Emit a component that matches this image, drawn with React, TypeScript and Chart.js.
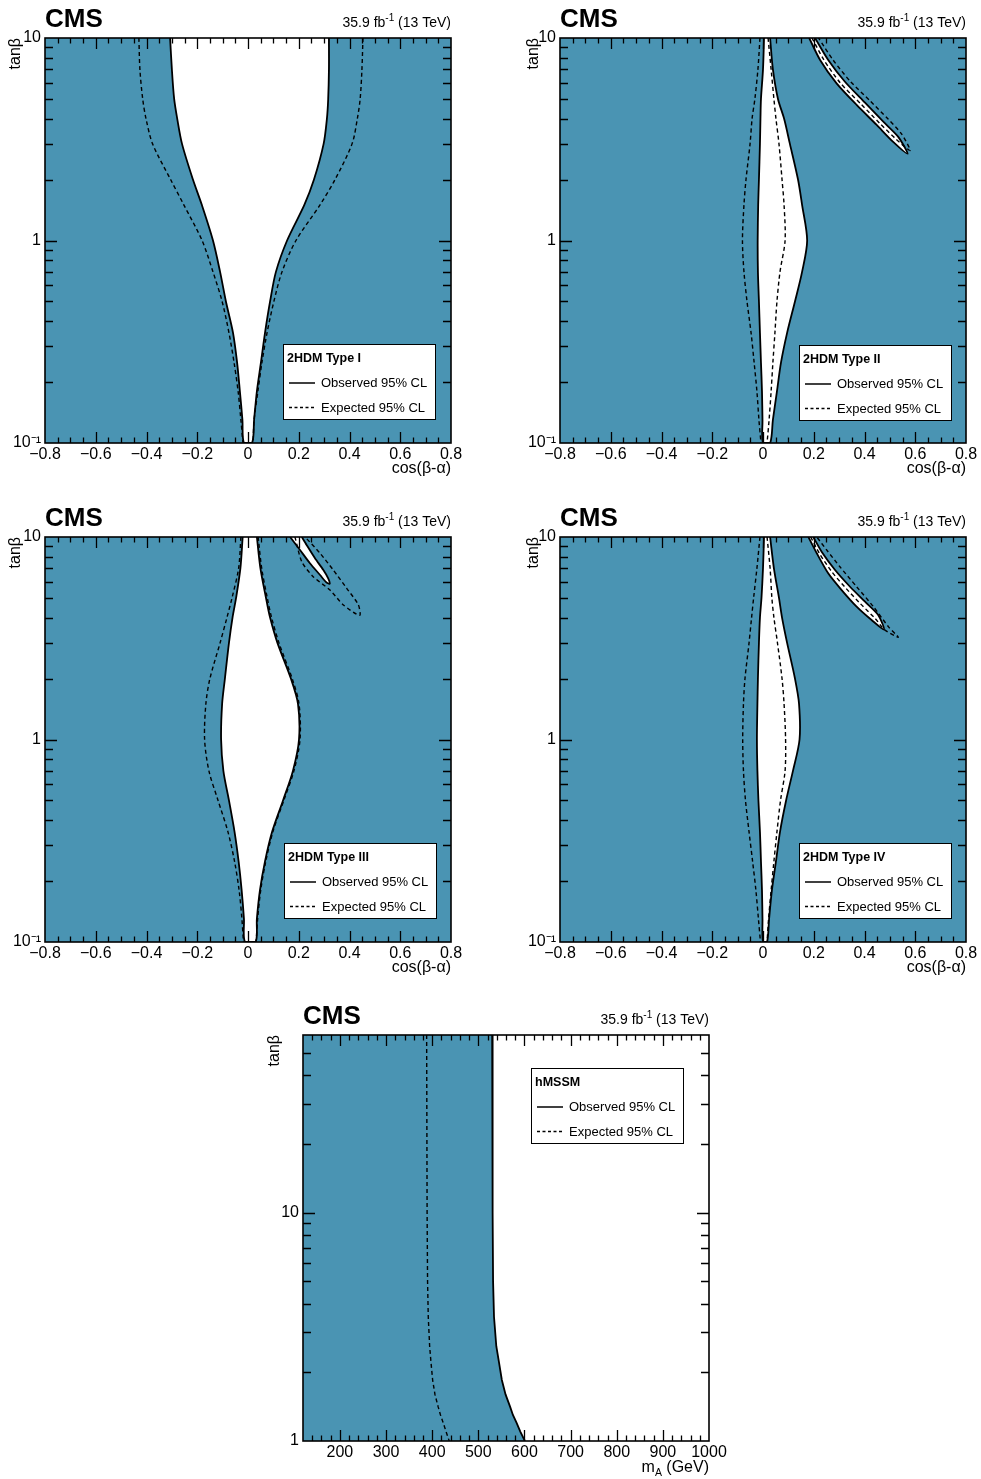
import React, { useEffect, useRef } from "react";
import { Chart, registerables } from "chart.js";

Chart.register(...registerables);

const FONT = '"Liberation Sans", Arial, Helvetica, sans-serif';
const TEAL = "rgb(74,148,179)";

// ---------------- data ----------------
// tan(beta) sampling used for the 2HDM contours
const TANB = [10, 7, 5, 4, 3, 2, 1.5, 1, 0.7, 0.5, 0.35, 0.25, 0.18, 0.13, 0.1];

// 2HDM Type I : cos(beta-alpha) of contour edges
const T1_OBS_LO = [-0.307, -0.3, -0.291, -0.279, -0.26, -0.217, -0.182, -0.138, -0.11, -0.087, -0.059, -0.043, -0.032, -0.022, -0.016];
const T1_OBS_HI = [0.319, 0.319, 0.316, 0.311, 0.298, 0.26, 0.222, 0.154, 0.11, 0.087, 0.067, 0.051, 0.035, 0.024, 0.016];
const T1_EXP_LO = [-0.43, -0.426, -0.415, -0.402, -0.376, -0.305, -0.253, -0.181, -0.138, -0.102, -0.075, -0.055, -0.039, -0.028, -0.02];
const T1_EXP_HI = [0.453, 0.449, 0.442, 0.431, 0.41, 0.343, 0.284, 0.189, 0.134, 0.102, 0.075, 0.055, 0.039, 0.024, 0.02];

// 2HDM Type II
const T2_OBS_LO = [0.004, 0.0, -0.008, -0.01, -0.012, -0.016, -0.019, -0.021, -0.02, -0.016, -0.012, -0.008, -0.004, -0.002, 0.0];
const T2_OBS_HI = [0.028, 0.039, 0.059, 0.083, 0.106, 0.138, 0.154, 0.174, 0.154, 0.126, 0.095, 0.071, 0.055, 0.039, 0.028];
const T2_EXP_LO = [-0.012, -0.02, -0.032, -0.043, -0.051, -0.067, -0.075, -0.081, -0.075, -0.063, -0.047, -0.035, -0.024, -0.016, -0.008];
const T2_EXP_HI = [0.02, 0.032, 0.043, 0.051, 0.063, 0.075, 0.083, 0.087, 0.067, 0.055, 0.047, 0.039, 0.032, 0.024, 0.016];
const T2_ISL_OBS_X = [0.182, 0.225, 0.29, 0.369, 0.448, 0.513, 0.57, 0.533, 0.474, 0.402, 0.323, 0.257, 0.205];
const T2_ISL_OBS_Y = [10, 7.79, 5.97, 4.67, 3.72, 3.07, 2.68, 3.25, 3.86, 4.79, 6.08, 7.79, 10];
const T2_ISL_EXP_X = [0.193, 0.24, 0.305, 0.386, 0.461, 0.524, 0.58, 0.546, 0.493, 0.422, 0.343, 0.276, 0.219];
const T2_ISL_EXP_Y = [10, 7.79, 5.99, 4.72, 3.78, 3.17, 2.78, 3.36, 3.98, 4.89, 6.13, 7.79, 10];

// 2HDM Type III
const T3_OBS_LO = [-0.021, -0.03, -0.047, -0.061, -0.075, -0.091, -0.102, -0.106, -0.097, -0.075, -0.053, -0.037, -0.025, -0.016, -0.012];
const T3_OBS_HI = [0.035, 0.049, 0.071, 0.087, 0.116, 0.169, 0.197, 0.201, 0.177, 0.138, 0.095, 0.067, 0.047, 0.035, 0.03];
const T3_EXP_LO = [-0.028, -0.037, -0.063, -0.083, -0.11, -0.15, -0.166, -0.171, -0.154, -0.118, -0.079, -0.053, -0.035, -0.024, -0.018];
const T3_EXP_HI = [0.04, 0.054, 0.076, 0.093, 0.122, 0.174, 0.201, 0.205, 0.181, 0.141, 0.098, 0.07, 0.05, 0.038, 0.032];
const T3_ISL_OBS_X = [0.166, 0.205, 0.244, 0.284, 0.31, 0.322, 0.316, 0.297, 0.264, 0.231, 0.212];
const T3_ISL_OBS_Y = [10, 8.63, 7.42, 6.49, 5.95, 5.88, 6.25, 6.87, 7.85, 9.13, 10];
const T3_ISL_EXP_X = [0.185, 0.212, 0.257, 0.323, 0.376, 0.44, 0.435, 0.389, 0.336, 0.284, 0.225];
const T3_ISL_EXP_Y = [10, 7.55, 6.37, 5.47, 4.62, 4.1, 4.62, 5.58, 6.87, 8.31, 10];

// 2HDM Type IV
const T4_OBS_LO = [0.004, 0.0, -0.006, -0.012, -0.016, -0.02, -0.022, -0.024, -0.022, -0.018, -0.012, -0.008, -0.004, -0.002, 0.0];
const T4_OBS_HI = [0.028, 0.043, 0.063, 0.075, 0.095, 0.126, 0.142, 0.144, 0.118, 0.091, 0.067, 0.051, 0.035, 0.024, 0.016];
const T4_EXP_LO = [-0.012, -0.024, -0.037, -0.045, -0.055, -0.071, -0.077, -0.08, -0.077, -0.069, -0.055, -0.041, -0.028, -0.018, -0.01];
const T4_EXP_HI = [0.016, 0.028, 0.035, 0.043, 0.057, 0.075, 0.083, 0.089, 0.087, 0.069, 0.055, 0.043, 0.032, 0.022, 0.016];
const T4_ISL_OBS_X = [0.179, 0.212, 0.257, 0.31, 0.369, 0.428, 0.477, 0.454, 0.402, 0.343, 0.284, 0.231, 0.198];
const T4_ISL_OBS_Y = [10, 8.31, 6.62, 5.47, 4.53, 3.89, 3.49, 4.12, 4.79, 5.68, 6.87, 8.46, 10];
const T4_ISL_EXP_X = [0.188, 0.222, 0.271, 0.327, 0.382, 0.441, 0.481, 0.533, 0.494, 0.435, 0.369, 0.303, 0.251, 0.212];
const T4_ISL_EXP_Y = [10, 8.31, 6.74, 5.58, 4.71, 3.97, 3.47, 3.2, 3.61, 4.53, 5.68, 7.13, 8.63, 10];

// hMSSM : m_A (GeV) of the limit vs tan(beta)
const MSSM_TANB = [60, 10, 5, 3.5, 2.6, 2.2, 1.85, 1.6, 1.41, 1.3, 1.2, 1.1, 1];
const MSSM_OBS = [530, 531, 532, 534, 539, 545, 551, 559, 569, 575, 583, 591, 601];
const MSSM_EXP = [388, 389, 390, 391.5, 394.5, 397.5, 401, 406, 413, 418, 424, 430, 437];

// tick labels
const Y_MAJOR_2HDM = [0.1, 1, 10];
const Y_LABELS_2HDM = ["10\u207B\u00B9", "1", "10"];
const Y_MAJOR_MSSM = [1, 10];
const Y_LABELS_MSSM = ["1", "10"];

const LEGEND_ENTRIES = ["Observed 95% CL", "Expected 95% CL"];
const CMS_LABEL = "CMS";

// ---------------- helpers ----------------
const pts = (xs: number[], ys: number[]) => xs.map((x, i) => ({ x, y: ys[i] }));
const rev = <T,>(a: T[]) => [...a].reverse();

const region = (data: any[], tension = 0.3) => ({
  data,
  showLine: true,
  fill: "shape",
  backgroundColor: "#ffffff",
  borderColor: "#000000",
  borderWidth: 1.8,
  pointRadius: 0,
  tension,
});
const expLine = (data: any[], tension = 0.3) => ({
  data,
  showLine: true,
  fill: false,
  borderColor: "#000000",
  borderWidth: 1.4,
  borderDash: [4, 3],
  pointRadius: 0,
  tension,
});

const fmtCos = (v: number) => {
  const r = Math.round(v * 100);
  if (r % 20 !== 0) return "";
  if (r === 0) return "0";
  return (r < 0 ? "\u2212" : "") + (Math.abs(r) / 100).toFixed(1);
};
const majorCos = (v: number) => Math.round(v * 100) % 20 === 0;
const fmtMass = (v: number) => (Math.round(v) % 100 === 0 && v >= 200 ? String(Math.round(v)) : "");
const majorMass = (v: number) => Math.round(v) % 100 === 0;

type Spec = {
  key: string;
  canvas: { left: number; top: number; width: number; height: number };
  area: { left: number; top: number; right: number; bottom: number };
  yTitleX: number;
  xTitleY: number;
  xTitle: string | null;
  x: { min: number; max: number; step: number; label: (v: number) => string; major: (v: number) => boolean };
  y: { min: number; max: number; majors: number[]; labels: string[] };
  bg: string;
  legendTitle: string;
  legendPos: [number, number];
  datasets: any[];
  massTitle?: boolean;
};

function makeDecor(s: Spec) {
  const c = s.canvas;
  return {
    id: "decor_" + s.key,
    beforeDatasetsDraw(chart: any) {
      const { ctx, chartArea: a } = chart;
      ctx.save();
      ctx.fillStyle = s.bg;
      ctx.fillRect(a.left, a.top, a.right - a.left, a.bottom - a.top);
      ctx.restore();
    },
    afterDatasetsDraw(chart: any) {
      const { ctx, chartArea: a } = chart;
      const xs = chart.scales.x;
      const ys = chart.scales.y;
      ctx.save();
      ctx.strokeStyle = "#000";
      ctx.lineWidth = 1.3;
      ctx.beginPath();
      for (const t of xs.ticks) {
        const v = t.value;
        if (v <= xs.min + 1e-9 || v >= xs.max - 1e-9) continue;
        const p = Math.round(xs.getPixelForValue(v)) + 0.5;
        const len = s.x.major(v) ? 11 : 5.5;
        ctx.moveTo(p, a.bottom);
        ctx.lineTo(p, a.bottom - len);
        ctx.moveTo(p, a.top);
        ctx.lineTo(p, a.top + len);
      }
      for (const t of ys.ticks) {
        const v = t.value;
        if (v <= ys.min * 1.0001 || v >= ys.max * 0.9999) continue;
        const e = Math.floor(Math.log10(v) + 1e-9);
        const sig = v / Math.pow(10, e);
        if (Math.abs(sig - Math.round(sig)) > 1e-6) continue;
        const p = Math.round(ys.getPixelForValue(v)) + 0.5;
        const len = Math.abs(sig - 1) < 1e-6 ? 12 : 8;
        ctx.moveTo(a.left, p);
        ctx.lineTo(a.left + len, p);
        ctx.moveTo(a.right, p);
        ctx.lineTo(a.right - len, p);
      }
      ctx.stroke();
      ctx.lineWidth = 1.6;
      ctx.strokeRect(a.left, a.top, a.right - a.left, a.bottom - a.top);
      ctx.restore();
    },
    afterDraw(chart: any) {
      const { ctx, chartArea: a } = chart;
      ctx.save();
      ctx.fillStyle = "#000";
      // CMS label
      ctx.textBaseline = "alphabetic";
      ctx.textAlign = "left";
      ctx.font = `bold 26px ${FONT}`;
      ctx.fillText(CMS_LABEL, a.left, a.top - 11);
      // luminosity label
      ctx.font = `14px ${FONT}`;
      const t3 = " (13 TeV)";
      const t1 = "35.9 fb";
      const w3 = ctx.measureText(t3).width;
      const w1 = ctx.measureText(t1).width;
      ctx.font = `10px ${FONT}`;
      const t2 = "-1";
      const w2 = ctx.measureText(t2).width;
      const bl = a.top - 11.5;
      ctx.fillText(t2, a.right - w3 - w2, bl - 6);
      ctx.font = `14px ${FONT}`;
      ctx.fillText(t3, a.right - w3, bl);
      ctx.fillText(t1, a.right - w3 - w2 - w1, bl);
      // m_A title
      if (s.massTitle) {
        ctx.font = `16px ${FONT}`;
        const g = " (GeV)";
        const wg = ctx.measureText(g).width;
        const wm = ctx.measureText("m").width;
        ctx.font = `10.5px ${FONT}`;
        const wa = ctx.measureText("A").width;
        const b = 1471.5 - c.top;
        ctx.fillText("A", a.right - wg - wa, b + 4.5);
        ctx.font = `16px ${FONT}`;
        ctx.fillText(g, a.right - wg, b);
        ctx.fillText("m", a.right - wg - wa - wm, b);
      }
      // legend box
      const lx = s.legendPos[0] - c.left;
      const ly = s.legendPos[1] - c.top;
      const W = 152, H = 75;
      ctx.fillStyle = "#fff";
      ctx.fillRect(lx, ly, W, H);
      ctx.strokeStyle = "#000";
      ctx.lineWidth = 1;
      ctx.strokeRect(lx + 0.5, ly + 0.5, W, H);
      ctx.fillStyle = "#000";
      ctx.textBaseline = "middle";
      ctx.font = `bold 12.5px ${FONT}`;
      ctx.fillText(s.legendTitle, lx + 4, ly + 14.5);
      ctx.lineWidth = 1.5;
      ctx.beginPath();
      ctx.moveTo(lx + 6, ly + 39);
      ctx.lineTo(lx + 32, ly + 39);
      ctx.stroke();
      ctx.setLineDash([3, 2.5]);
      ctx.beginPath();
      ctx.moveTo(lx + 6, ly + 63.5);
      ctx.lineTo(lx + 32, ly + 63.5);
      ctx.stroke();
      ctx.setLineDash([]);
      ctx.font = `13px ${FONT}`;
      ctx.fillText(LEGEND_ENTRIES[0], lx + 38, ly + 39.5);
      ctx.fillText(LEGEND_ENTRIES[1], lx + 38, ly + 64);
      ctx.restore();
    },
  };
}

function buildConfig(s: Spec): any {
  const c = s.canvas, a = s.area;
  const half = (16 * 1.2) / 2;
  const padL = s.yTitleX - half - c.left;
  const yW = a.left - c.left - padL;
  const padR = c.left + c.width - a.right;
  const padT = a.top - c.top;
  const xH = s.xTitleY - a.bottom + half;
  const padB = c.top + c.height - a.bottom - xH;
  const tickFont = { family: FONT, size: 16 };
  const titleFont = { family: FONT, size: 16, lineHeight: 1.2 };
  return {
    type: "scatter",
    data: { datasets: s.datasets },
    options: {
      responsive: false,
      animation: false,
      devicePixelRatio: 1,
      events: [],
      layout: { padding: { left: padL, right: padR, top: padT, bottom: padB } },
      plugins: { legend: { display: false }, tooltip: { enabled: false } },
      scales: {
        x: {
          type: "linear",
          position: "bottom",
          min: s.x.min,
          max: s.x.max,
          grid: { display: false, drawTicks: false },
          border: { display: false },
          ticks: {
            stepSize: s.x.step,
            autoSkip: false,
            maxRotation: 0,
            minRotation: 0,
            maxTicksLimit: 1000,
            padding: 2,
            color: "#000",
            font: tickFont,
            callback: (v: any) => s.x.label(Number(v)),
          },
          title: {
            display: !!s.xTitle,
            text: s.xTitle ?? "",
            align: "end",
            padding: 0,
            color: "#000",
            font: titleFont,
          },
          afterFit: (sc: any) => {
            sc.height = xH;
          },
        },
        y: {
          type: "logarithmic",
          position: "left",
          min: s.y.min,
          max: s.y.max,
          grid: { display: false, drawTicks: false },
          border: { display: false },
          ticks: {
            autoSkip: false,
            padding: 4,
            color: "#000",
            font: tickFont,
            callback: (v: any) => {
              const n = Number(v);
              const i = s.y.majors.findIndex((m) => Math.abs(m - n) < 1e-6 * m);
              return i >= 0 ? s.y.labels[i] : "";
            },
          },
          title: { display: true, text: "tan\u03B2", align: "end", padding: 0, color: "#000", font: titleFont },
          afterFit: (sc: any) => {
            sc.width = yW;
          },
        },
      },
    },
    plugins: [makeDecor(s)],
  };
}

const X2HDM = { min: -0.8, max: 0.8, step: 0.05, label: fmtCos, major: majorCos };
const Y2HDM = { min: 0.1, max: 10, majors: Y_MAJOR_2HDM, labels: Y_LABELS_2HDM };

const centralRegion = (lo: number[], hi: number[]) => [...pts(lo, TANB), ...rev(pts(hi, TANB))];

const SPECS: Spec[] = [
  {
    key: "t1",
    canvas: { left: 0, top: 0, width: 475, height: 490 },
    area: { left: 45, top: 38, right: 451, bottom: 443 },
    yTitleX: 16,
    xTitleY: 469,
    xTitle: "cos(\u03B2-\u03B1)",
    x: X2HDM,
    y: Y2HDM,
    bg: TEAL,
    legendTitle: "2HDM Type I",
    legendPos: [283, 344],
    datasets: [
      expLine(pts(T1_EXP_LO, TANB)),
      expLine(pts(T1_EXP_HI, TANB)),
      region(centralRegion(T1_OBS_LO, T1_OBS_HI)),
    ],
  },
  {
    key: "t2",
    canvas: { left: 490, top: 0, width: 490, height: 490 },
    area: { left: 560, top: 38, right: 966, bottom: 443 },
    yTitleX: 534,
    xTitleY: 469,
    xTitle: "cos(\u03B2-\u03B1)",
    x: X2HDM,
    y: Y2HDM,
    bg: TEAL,
    legendTitle: "2HDM Type II",
    legendPos: [799, 345],
    datasets: [
      expLine(pts(T2_EXP_LO, TANB)),
      expLine(pts(T2_EXP_HI, TANB)),
      expLine(pts(T2_ISL_EXP_X, T2_ISL_EXP_Y), 0.25),
      region(centralRegion(T2_OBS_LO, T2_OBS_HI)),
      region(pts(T2_ISL_OBS_X, T2_ISL_OBS_Y), 0.25),
    ],
  },
  {
    key: "t3",
    canvas: { left: 0, top: 490, width: 475, height: 500 },
    area: { left: 45, top: 537, right: 451, bottom: 942 },
    yTitleX: 16,
    xTitleY: 968,
    xTitle: "cos(\u03B2-\u03B1)",
    x: X2HDM,
    y: Y2HDM,
    bg: TEAL,
    legendTitle: "2HDM Type III",
    legendPos: [284, 843],
    datasets: [
      expLine(pts(T3_EXP_LO, TANB)),
      expLine(pts(T3_EXP_HI, TANB)),
      expLine(pts(T3_ISL_EXP_X, T3_ISL_EXP_Y), 0.25),
      region(centralRegion(T3_OBS_LO, T3_OBS_HI)),
      region(pts(T3_ISL_OBS_X, T3_ISL_OBS_Y), 0.25),
    ],
  },
  {
    key: "t4",
    canvas: { left: 490, top: 490, width: 490, height: 500 },
    area: { left: 560, top: 537, right: 966, bottom: 942 },
    yTitleX: 534,
    xTitleY: 968,
    xTitle: "cos(\u03B2-\u03B1)",
    x: X2HDM,
    y: Y2HDM,
    bg: TEAL,
    legendTitle: "2HDM Type IV",
    legendPos: [799, 843],
    datasets: [
      expLine(pts(T4_EXP_LO, TANB)),
      expLine(pts(T4_EXP_HI, TANB)),
      expLine(pts(T4_ISL_EXP_X, T4_ISL_EXP_Y), 0.25),
      region(centralRegion(T4_OBS_LO, T4_OBS_HI)),
      region(pts(T4_ISL_OBS_X, T4_ISL_OBS_Y), 0.25),
    ],
  },
  {
    key: "mssm",
    canvas: { left: 240, top: 990, width: 500, height: 488 },
    area: { left: 303, top: 1035, right: 709, bottom: 1441 },
    yTitleX: 275,
    xTitleY: 1461,
    xTitle: null,
    massTitle: true,
    x: { min: 120, max: 1000, step: 20, label: fmtMass, major: majorMass },
    y: { min: 1, max: 60, majors: Y_MAJOR_MSSM, labels: Y_LABELS_MSSM },
    bg: "#ffffff",
    legendTitle: "hMSSM",
    legendPos: [531, 1068],
    datasets: [
      expLine(pts(MSSM_EXP, MSSM_TANB), 0),
      {
        data: pts(MSSM_OBS, MSSM_TANB),
        showLine: true,
        fill: false,
        borderColor: "#000",
        borderWidth: 1.8,
        pointRadius: 0,
        tension: 0,
      },
      {
        data: [{ x: 120, y: 60 }, ...pts(MSSM_OBS, MSSM_TANB), { x: 120, y: 1 }],
        showLine: true,
        fill: "shape",
        backgroundColor: TEAL,
        borderWidth: 0,
        borderColor: "rgba(0,0,0,0)",
        pointRadius: 0,
        tension: 0,
      },
    ],
  },
];

function Panel({ spec }: { spec: Spec }) {
  const ref = useRef<HTMLCanvasElement>(null);
  useEffect(() => {
    if (!ref.current) return;
    const chart = new Chart(ref.current, buildConfig(spec));
    return () => chart.destroy();
  }, [spec]);
  const c = spec.canvas;
  return (
    <canvas
      ref={ref}
      width={c.width}
      height={c.height}
      style={{ position: "absolute", left: c.left, top: c.top, width: c.width, height: c.height }}
    />
  );
}

export default function App() {
  useEffect(() => {
    Chart.defaults.font.family = FONT;
  }, []);
  return (
    <div>
      {SPECS.map((s) => (
        <Panel key={s.key} spec={s} />
      ))}
    </div>
  );
}
